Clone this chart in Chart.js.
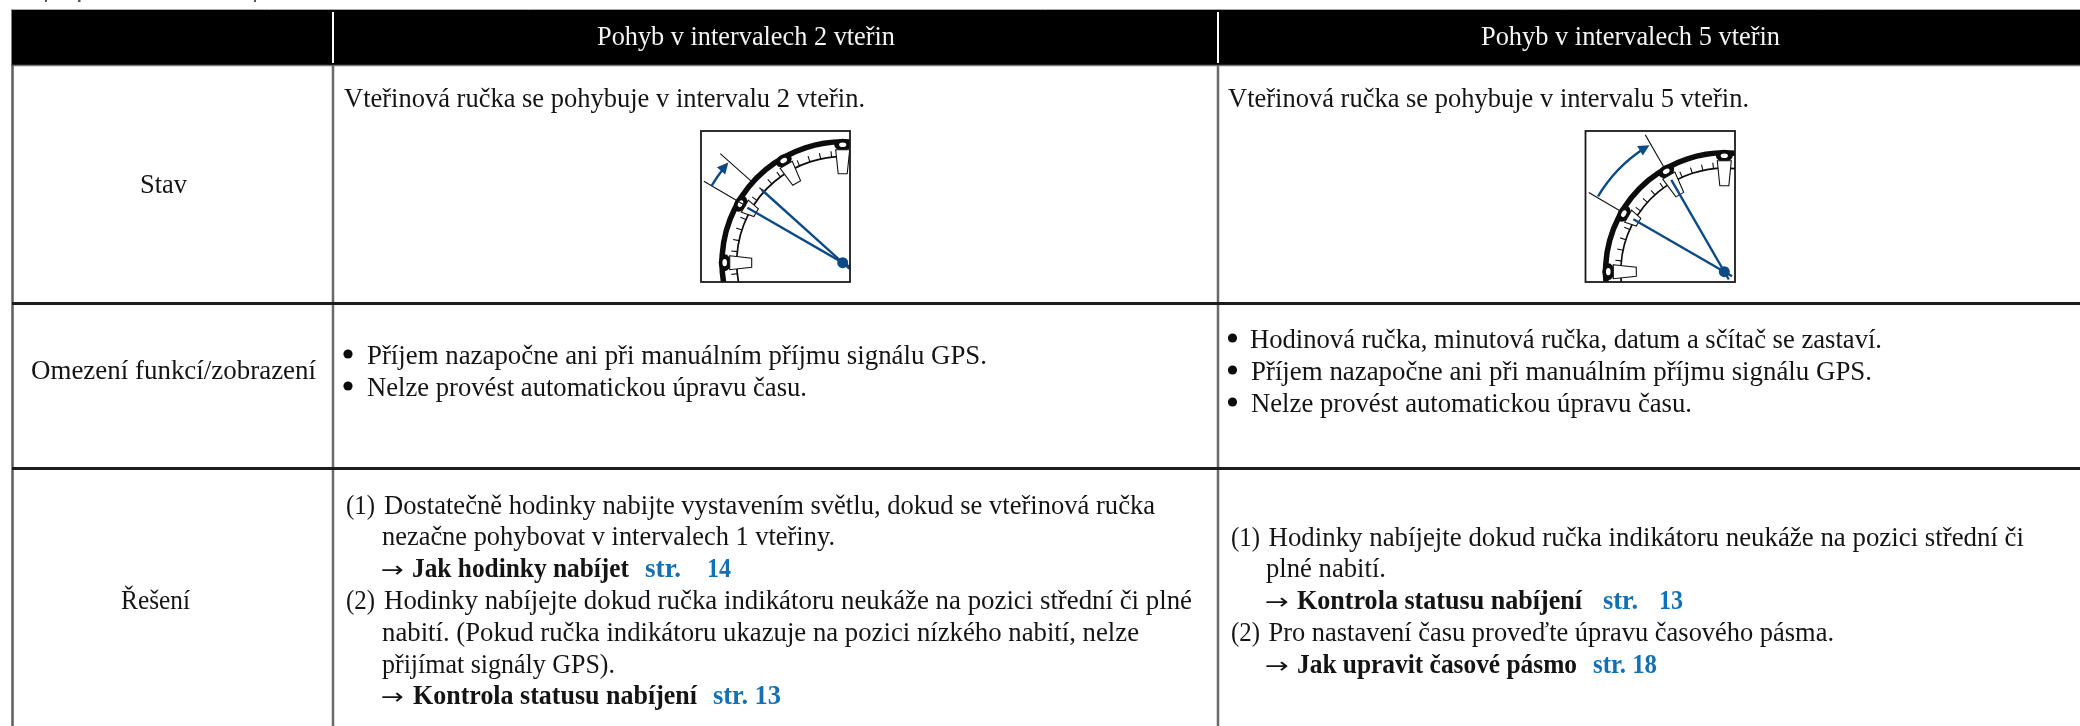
<!DOCTYPE html>
<html lang="cs">
<head>
<meta charset="utf-8">
<title>Pohyb v intervalech</title>
<style>html,body{margin:0;padding:0;background:#fff;overflow:hidden}canvas{display:block}</style>
<script src="https://cdn.jsdelivr.net/npm/chart.js@4/dist/chart.umd.min.js"></script>
</head>
<body>
<canvas id="c" width="2080" height="726"></canvas>
<script>
/* ---------- content ---------- */
const columnHeaders = ["Pohyb v intervalech 2 vteřin", "Pohyb v intervalech 5 vteřin"];
const rowLabels = ["Stav", "Omezení funkcí/zobrazení", "Řešení"];
const stateTexts = ["Vteřinová ručka se pohybuje v intervalu 2 vteřin.", "Vteřinová ručka se pohybuje v intervalu 5 vteřin."];
const limits2s = ["Příjem nazapočne ani při manuálním příjmu signálu GPS.", "Nelze provést automatickou úpravu času."];
const limits5s = ["Hodinová ručka, minutová ručka, datum a sčítač se zastaví.", "Příjem nazapočne ani při manuálním příjmu signálu GPS.", "Nelze provést automatickou úpravu času."];
const solution2s = ["(1)", "Dostatečně hodinky nabijte vystavením světlu, dokud se vteřinová ručka", "nezačne pohybovat v intervalech 1 vteřiny.", "→", "Jak hodinky nabíjet", "str.", "14", "(2)", "Hodinky nabíjejte dokud ručka indikátoru neukáže na pozici střední či plné", "nabití. (Pokud ručka indikátoru ukazuje na pozici nízkého nabití, nelze", "přijímat signály GPS).", "→", "Kontrola statusu nabíjení", "str. 13"];
const solution5s = ["(1)", "Hodinky nabíjejte dokud ručka indikátoru neukáže na pozici střední či", "plné nabití.", "→", "Kontrola statusu nabíjení", "str.", "13", "(2)", "Pro nastavení času proveďte úpravu časového pásma.", "→", "Jak upravit časové pásmo", "str. 18"];

/* ---------- layout: [x start, x end, baseline, style] ---------- */
const FONT = '"Liberation Serif", serif', ARROW_FONT = '"DejaVu Sans", sans-serif', SIZE = 28;
const INK = '#141414', LINK = '#1470b4', HAND = '#0b4a85';
const headerLayout = [[597, 895, 45], [1481, 1780, 45]];
const rowLabelLayout = [[140, 187, 193], [31, 316, 379], [121, 190, 609]];
const stateLayout = [[344, 865, 107], [1228, 1749, 107]];
const limits2sLayout = [[367, 987, 364], [367, 807, 396]];
const limits5sLayout = [[1250, 1882, 348], [1251, 1872, 380], [1251, 1692, 412]];
const bullets = [[348, 354], [348, 386], [1232.5, 338], [1232.5, 370], [1232.5, 402]];
const solution2sLayout = [
  [346, 375, 513.5, 'n'], [384, 1155, 513.5, 'n'], [382, 835, 545, 'n'],
  [381, 404, 577, 'a'], [412, 629, 577, 'b'], [645, 681, 577, 'l'], [707, 731, 577, 'l'],
  [346, 375, 609, 'n'], [384, 1192, 609, 'n'], [382, 1139, 640.5, 'n'], [382, 615, 672.5, 'n'],
  [381, 404, 704, 'a'], [413, 697, 704, 'b'], [713, 781, 704, 'l']
];
const solution5sLayout = [
  [1231, 1260, 545.5, 'n'], [1268.5, 2024, 545.5, 'n'], [1266, 1386, 577, 'n'],
  [1265, 1289, 609, 'a'], [1297, 1582, 609, 'b'], [1603, 1638, 609, 'l'], [1659, 1683, 609, 'l'],
  [1231, 1260, 641, 'n'], [1268.5, 1834, 641, 'n'],
  [1265, 1289, 673, 'a'], [1297, 1577, 673, 'b'], [1593, 1657, 673, 'l']
];
/* remains of the clipped line above the table */
const clippedMarks = [[45, 0, 2, 2], [78, 0, 2.5, 2], [254, 0, 2, 2]];

/* dial illustrations */
const dials = [
  { frame: [701, 131, 850, 282], cx: 842.7, cy: 262.7, ro: 123.5, rm: 118, ri: 106,
    wedge: { 0: 91, 30: 100, 60: 92, 90: 89 }, hands: [30, 42], handLen: [110, 109],
    guide: [[30.4, 112, 161], [41.7, 123, 164]], sweep: [152, 30.6, 41.2] },
  { frame: [1585.5, 131, 1735, 282], cx: 1724.3, cy: 271.7, ro: 121.5, rm: 116, ri: 103.5,
    wedge: { 0: 88, 30: 99, 60: 89, 90: 86 }, hands: [30, 60], handLen: [105, 106],
    guide: [[30.3, 121, 157], [60, 121, 158]], sweep: [147, 30.8, 59.4] }
];

/* table rules as line datasets */
const rule = (x0, y0, x1, y1, color, w) => ({
  data: [{ x: x0, y: y0 }, { x: x1, y: y1 }], showLine: true, borderColor: color, borderWidth: w,
  pointRadius: 0, backgroundColor: color, fill: false
});
const datasets = [
  rule(12, 303.5, 2080, 303.5, '#1c1c1c', 3),
  rule(12, 468.5, 2080, 468.5, '#1c1c1c', 3),
  rule(333, 12, 333, 63, '#ffffff', 2),
  rule(1218, 12, 1218, 63, '#ffffff', 2),
  rule(12.5, 65, 12.5, 726, '#5e5e5e', 2.5),
  rule(333, 65, 333, 726, '#6a6a6a', 2.5),
  rule(1218, 65, 1218, 726, '#6a6a6a', 2.5),
  rule(11, 65.5, 2080, 65.5, '#777777', 1.5),
  rule(11, 9.5, 2080, 9.5, '#a8a8a8', 1)
];

function fit(ctx, X, Y, text, box, color, fontSpec) {
  const [x0, x1, y] = box;
  ctx.font = fontSpec || `${SIZE}px ${FONT}`;
  ctx.fillStyle = color;
  ctx.textAlign = 'left';
  ctx.textBaseline = 'alphabetic';
  const w = ctx.measureText(text).width;
  const px0 = X(x0), px1 = X(x1);
  ctx.save();
  ctx.translate(px0, Y(y));
  ctx.scale((px1 - px0) / w, 1);
  ctx.fillText(text, 0, 0);
  ctx.restore();
}

function runs(ctx, X, Y, texts, layout) {
  texts.forEach((t, i) => {
    const s = layout[i][3];
    if (s === 'a') fit(ctx, X, Y, t, layout[i], INK, `22px ${ARROW_FONT}`);
    else if (s === 'n') fit(ctx, X, Y, t, layout[i], INK);
    else fit(ctx, X, Y, t, layout[i], s === 'l' ? LINK : INK, `bold ${SIZE}px ${FONT}`);
  });
}

function drawDial(ctx, X, Y, d) {
  const [fx0, fy0, fx1, fy1] = d.frame;
  const cx = X(d.cx), cy = Y(d.cy);
  const P = (deg, r) => [cx - r * Math.cos(deg * Math.PI / 180), cy - r * Math.sin(deg * Math.PI / 180)];
  const seg = (deg, r0, r1) => { const a = P(deg, r0), b = P(deg, r1); ctx.beginPath(); ctx.moveTo(a[0], a[1]); ctx.lineTo(b[0], b[1]); ctx.stroke(); };

  ctx.save();
  ctx.beginPath();
  ctx.rect(X(fx0), Y(fy0), X(fx1) - X(fx0), Y(fy1) - Y(fy0));
  ctx.clip();

  ctx.strokeStyle = '#0c0c0c';
  ctx.lineWidth = d.ro - d.rm;
  ctx.beginPath(); ctx.arc(cx, cy, (d.ro + d.rm) / 2, Math.PI * 0.9, Math.PI * 1.6); ctx.stroke();
  ctx.lineWidth = 1.7;
  ctx.beginPath(); ctx.arc(cx, cy, d.ri, Math.PI * 0.9, Math.PI * 1.6); ctx.stroke();

  ctx.lineWidth = 1.1;
  for (let a = -12; a <= 114; a += 6) {
    if (a % 30 === 0) continue;
    seg(a, d.ri, d.ri + 6);
  }

  [0, 30, 60, 90].forEach(a => {
    const [bx, by] = P(a, d.rm);
    const rot = a * Math.PI / 180;
    ctx.fillStyle = '#0c0c0c';
    ctx.beginPath(); ctx.ellipse(bx, by, 6, 8.5, rot, 0, Math.PI * 2); ctx.fill();
    ctx.fillStyle = '#ffffff';
    ctx.beginPath(); ctx.ellipse(bx, by, 2.3, 3.6, rot, 0, Math.PI * 2); ctx.fill();
    // index wedge
    const rOut = d.rm - 5, rIn = d.wedge[a];
    const tx = Math.sin(rot), ty = -Math.cos(rot);
    const o = P(a, rOut), n = P(a, rIn);
    ctx.fillStyle = '#ffffff';
    ctx.strokeStyle = '#111111';
    ctx.lineWidth = 1.1;
    ctx.beginPath();
    ctx.moveTo(o[0] + tx * 7, o[1] + ty * 7);
    ctx.lineTo(n[0] + tx * 4.5, n[1] + ty * 4.5);
    ctx.lineTo(n[0] - tx * 4.5, n[1] - ty * 4.5);
    ctx.lineTo(o[0] - tx * 7, o[1] - ty * 7);
    ctx.closePath(); ctx.fill(); ctx.stroke();
  });

  // thin guide lines
  ctx.strokeStyle = '#111111';
  ctx.lineWidth = 1.1;
  d.guide.forEach(g => seg(g[0], g[1], g[2]));

  // hands
  ctx.strokeStyle = HAND;
  ctx.lineWidth = 2.4;
  d.hands.forEach((a, i) => seg(a, -9, d.handLen[i]));
  ctx.fillStyle = HAND;
  ctx.beginPath(); ctx.arc(cx, cy, 5.5, 0, Math.PI * 2); ctx.fill();

  // sweep arrow
  const [r, a0, a1] = d.sweep;
  ctx.lineWidth = 2.4;
  ctx.beginPath();
  ctx.arc(cx, cy, r, Math.PI + a0 * Math.PI / 180, Math.PI + (a1 - 2.5) * Math.PI / 180);
  ctx.stroke();
  const tip = P(a1, r);
  const rot = a1 * Math.PI / 180;
  const dirX = Math.sin(rot), dirY = -Math.cos(rot);   // tangent, clockwise
  const base = [tip[0] - dirX * 11, tip[1] - dirY * 11];
  ctx.beginPath();
  ctx.moveTo(tip[0], tip[1]);
  ctx.lineTo(base[0] + dirY * 5.5, base[1] - dirX * 5.5);
  ctx.lineTo(base[0] - dirY * 5.5, base[1] + dirX * 5.5);
  ctx.closePath(); ctx.fill();
  ctx.restore();

  ctx.strokeStyle = '#1a1a1a';
  ctx.lineWidth = 1.8;
  ctx.strokeRect(X(fx0), Y(fy0), X(fx1) - X(fx0), Y(fy1) - Y(fy0));
}

const tablePlugin = {
  id: 'tablePlugin',
  beforeDatasetsDraw(chart) {
    const ctx = chart.ctx, X = v => chart.scales.x.getPixelForValue(v), Y = v => chart.scales.y.getPixelForValue(v);
    ctx.save();
    ctx.fillStyle = '#000000';
    ctx.fillRect(X(11.5), Y(10), X(2080) - X(11.5), Y(65) - Y(10));
    ctx.fillStyle = '#555555';
    clippedMarks.forEach(m => ctx.fillRect(X(m[0]), Y(m[1]), m[2], m[3]));
    ctx.restore();
  },
  afterDatasetsDraw(chart) {
    const ctx = chart.ctx, X = v => chart.scales.x.getPixelForValue(v), Y = v => chart.scales.y.getPixelForValue(v);
    ctx.save();
    columnHeaders.forEach((t, i) => fit(ctx, X, Y, t, headerLayout[i], '#f4f4f4'));
    rowLabels.forEach((t, i) => fit(ctx, X, Y, t, rowLabelLayout[i], INK));
    stateTexts.forEach((t, i) => fit(ctx, X, Y, t, stateLayout[i], INK));
    limits2s.forEach((t, i) => fit(ctx, X, Y, t, limits2sLayout[i], INK));
    limits5s.forEach((t, i) => fit(ctx, X, Y, t, limits5sLayout[i], INK));
    runs(ctx, X, Y, solution2s, solution2sLayout);
    runs(ctx, X, Y, solution5s, solution5sLayout);
    ctx.fillStyle = '#0c0c0c';
    bullets.forEach(b => { ctx.beginPath(); ctx.arc(X(b[0]), Y(b[1]), 4.6, 0, Math.PI * 2); ctx.fill(); });
    dials.forEach(d => drawDial(ctx, X, Y, d));
    ctx.restore();
  }
};

new Chart(document.getElementById('c'), {
  type: 'scatter',
  data: { datasets },
  plugins: [tablePlugin],
  options: {
    responsive: false,
    animation: false,
    layout: { padding: 0 },
    plugins: { legend: { display: false }, tooltip: { enabled: false }, title: { display: false } },
    scales: {
      x: { type: 'linear', min: 0, max: 2080, display: false },
      y: { type: 'linear', min: 0, max: 726, reverse: true, display: false }
    }
  }
});
</script>
</body>
</html>
